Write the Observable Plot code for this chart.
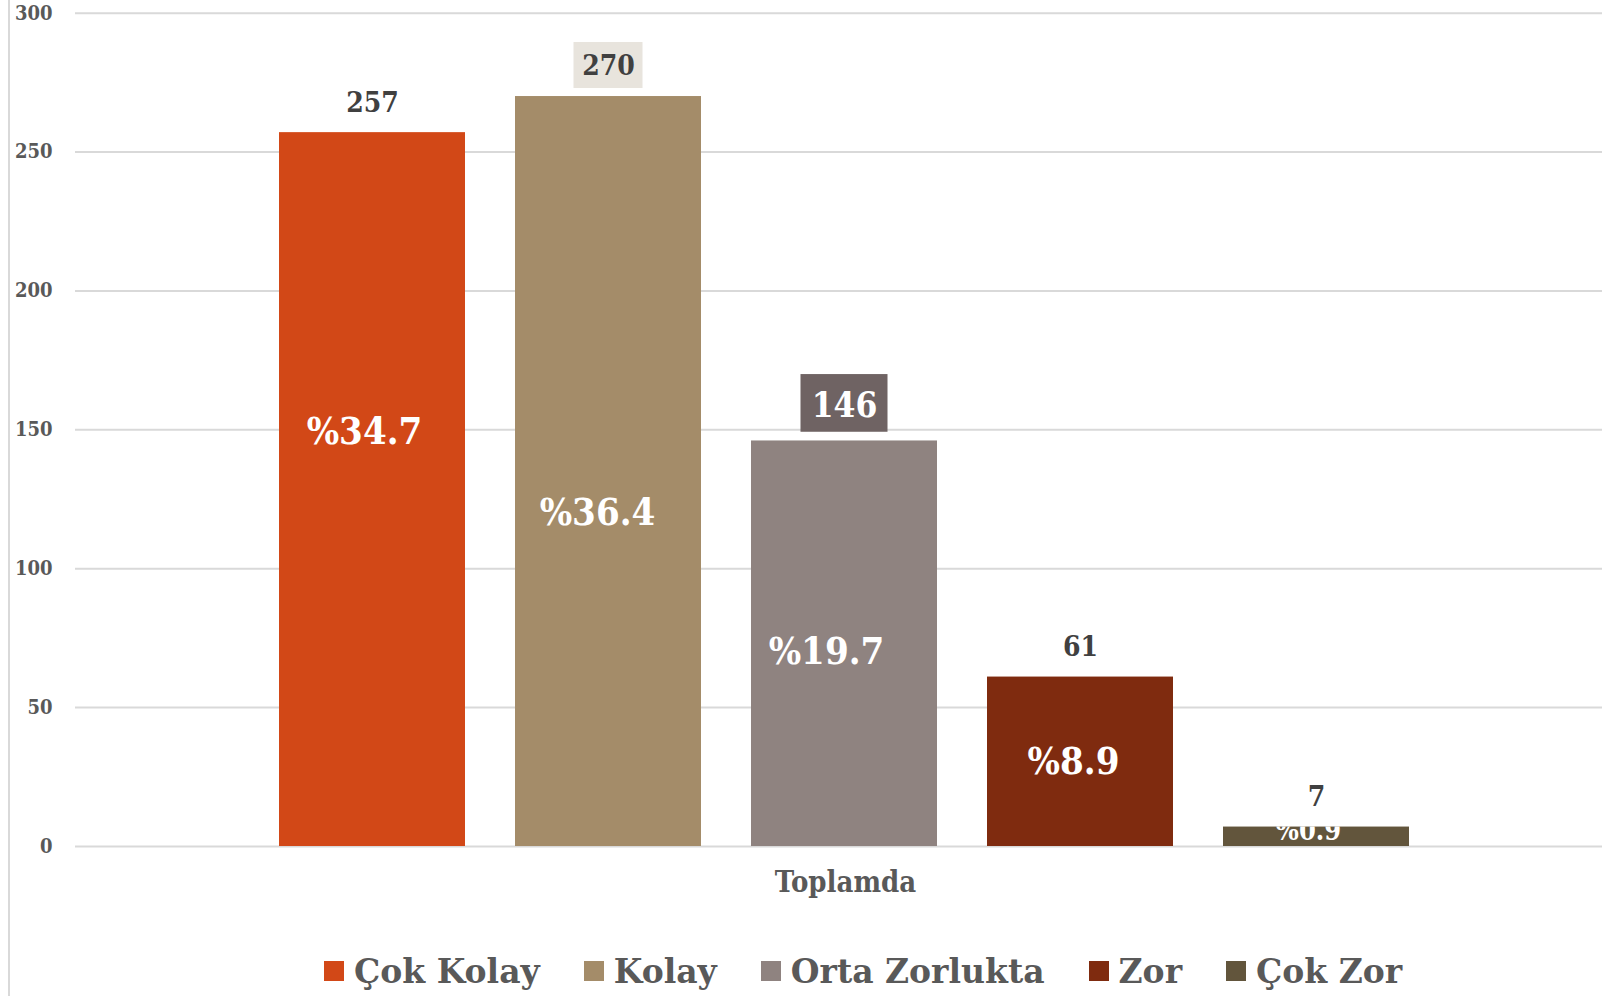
<!DOCTYPE html>
<html><head><meta charset="utf-8">
<script src="https://cdn.jsdelivr.net/npm/d3@7"></script>
<script src="https://cdn.jsdelivr.net/npm/@observablehq/plot@0.6"></script>
<style>
body{margin:0;background:#fff;}
#wrap{position:relative;width:1602px;height:996px;overflow:hidden;font-family:"DejaVu Serif Condensed","DejaVu Serif",serif;font-stretch:condensed;}
#vline{position:absolute;left:8px;top:0;width:2px;height:996px;background:#d9d9d9;}
#chart{position:absolute;left:0;top:0;}
#legend{position:absolute;left:324px;top:951px;height:40px;display:flex;align-items:center;font-family:"DejaVu Serif",serif;font-stretch:normal;font-weight:bold;font-size:33px;color:#595959;white-space:nowrap;}
#legend .item{display:flex;align-items:center;margin-right:44px;}
#legend .sw{width:20px;height:20px;margin-right:10px;flex:none;}
</style></head>
<body><div id="wrap"><div id="vline"></div><div id="chart"></div><div id="legend"></div></div>
<script>
// ---- data ----
const series = ["Çok Kolay", "Kolay", "Orta Zorlukta", "Zor", "Çok Zor"];
const counts = [257, 270, 146, 61, 7];
const percents = [34.7, 36.4, 19.7, 8.9, 0.9];
const category = "Toplamda";
const yTicks = [0, 50, 100, 150, 200, 250, 300];

// ---- styles ----
const palette = ["#D24817", "#A48C69", "#8F8380", "#7F2B0F", "#62553C"];
const FONT = '"DejaVu Serif Condensed","DejaVu Serif",serif';
const pctStyle = {
  "Çok Kolay":     {dx: -8,  dy: -58, size: 38},
  "Kolay":         {dx: -11, dy: 41,  size: 38},
  "Orta Zorlukta": {dx: -18, dy: 8,   size: 38},
  "Zor":           {dx: -7,  dy: 0,   size: 38},
  "Çok Zor":       {dx: -8,  dy: -5,  size: 27}
};

const data = series.map((s, i) => ({series: s, count: counts[i], pct: percents[i]}));

const pctMarks = series.map(s => Plot.text(data, {
  filter: d => d.series === s,
  x: "series", y: d => d.count / 2,
  text: d => "%" + d.pct.toFixed(1),
  fill: "#ffffff", fontWeight: "bold", fontSize: pctStyle[s].size,
  dx: pctStyle[s].dx, dy: pctStyle[s].dy
}));

const chart = Plot.plot({
  width: 1602, height: 940,
  marginLeft: 75, marginRight: 0, marginTop: 12.7, marginBottom: 94,
  style: {fontFamily: FONT, fontStretch: "condensed", fontWeight: "bold", fontSize: "20px", color: "#595959", background: "transparent"},
  x: {domain: series, range: [278.3, 1410], paddingInner: 0.213, paddingOuter: 0, axis: null},
  y: {domain: [0, 300], range: [846, 12.7], ticks: yTicks, tickSize: 0, tickPadding: 23, label: null},
  color: {domain: series, range: palette},
  marks: [
    Plot.ruleY(yTicks, {stroke: "#d9d9d9", strokeWidth: 2}),
    Plot.barY(data, {x: "series", y: "count", fill: "series"}),
    // highlighted label boxes
    Plot.barY(data, {filter: d => d.series === "Kolay", x: "series", y1: "count", y2: "count",
      fill: "#E8E4DD", insetLeft: 58.5, insetRight: 58.5, insetTop: -54, insetBottom: 8}),
    Plot.barY(data, {filter: d => d.series === "Orta Zorlukta", x: "series", y1: "count", y2: "count",
      fill: "#6F6363", insetLeft: 49.5, insetRight: 49.5, insetTop: -66.4, insetBottom: 8.7}),
    // value labels
    Plot.text(data, {filter: d => d.series !== "Orta Zorlukta", x: "series", y: "count",
      text: d => String(d.count), dy: -30, fontSize: 28, fontWeight: "bold", fill: "#404040"}),
    Plot.text(data, {filter: d => d.series === "Orta Zorlukta", x: "series", y: "count",
      text: d => String(d.count), dy: -35, fontSize: 35, fontWeight: "bold", fill: "#ffffff"}),
    ...pctMarks,
    // category label
    Plot.text([category], {frameAnchor: "bottom", text: d => d, dy: 45, dx: 6.5,
      fontSize: 29, fontWeight: "bold", fill: "#595959"})
  ]
});
document.getElementById("chart").appendChild(chart);

// clip percentage labels to the bars (as in the original, the small label is cut by its bar)
try {
  const svg = d3.select(chart);
  const cp = svg.insert("defs", ":first-child").append("clipPath").attr("id", "barclip");
  const barG = svg.selectAll('g[aria-label="bar"]').filter((d, i) => i === 0);
  const tf = barG.attr("transform");
  barG.selectAll("rect").each(function () {
    const c = this.cloneNode();
    if (tf) c.setAttribute("transform", tf);
    cp.node().appendChild(c);
  });
  const wrapG = svg.append("g").attr("clip-path", "url(#barclip)");
  const textGroups = svg.selectAll('g[aria-label="text"]').nodes();
  textGroups.slice(2, 2 + series.length).forEach(n => wrapG.node().appendChild(n));
} catch (e) { console.log(e); }

// legend
const legend = d3.select("#legend");
series.forEach((s, i) => {
  const it = legend.append("div").attr("class", "item");
  it.append("div").attr("class", "sw").style("background", palette[i]);
  it.append("span").text(s);
});
</script>
</body></html>
